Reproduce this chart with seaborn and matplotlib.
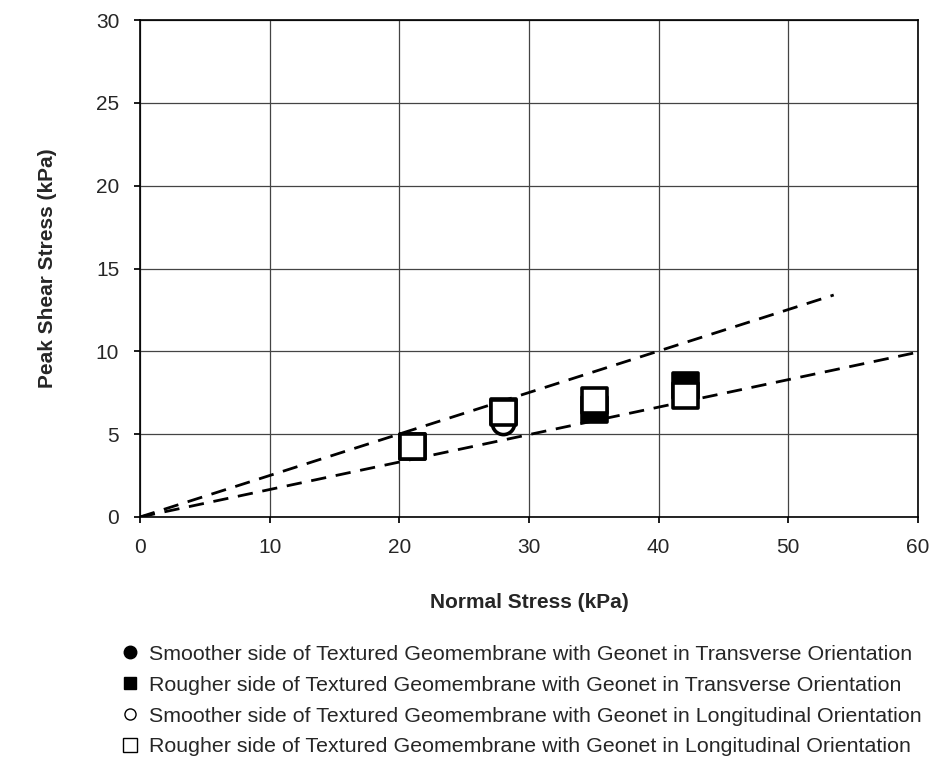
import matplotlib
matplotlib.use("Agg")
import matplotlib.pyplot as plt
from matplotlib.lines import Line2D
import seaborn as sns
import numpy as np

sns.set_theme(style="white")
plt.rcParams['font.family'] = ['Liberation Sans', 'DejaVu Sans']

# Normal stress levels (kPa)
normal_stress = [21, 28, 35, 42]

# Peak shear stress (kPa) for each interface
smooth_transverse = [4.3, 6.3, 6.5, 7.9]
rough_transverse = [4.3, 6.4, 6.5, 7.95]
smooth_longitudinal = [4.3, 5.7, 7.0, 7.35]
rough_longitudinal = [4.3, 6.35, 7.05, 7.35]

labels = [
    "Smoother side of Textured Geomembrane with Geonet in Transverse Orientation",
    "Rougher side of Textured Geomembrane with Geonet in Transverse Orientation",
    "Smoother side of Textured Geomembrane with Geonet in Longitudinal Orientation",
    "Rougher side of Textured Geomembrane with Geonet in Longitudinal Orientation",
]

# Failure envelopes through the origin
upper_env_x = [0, 53.5]
upper_env_y = [0, 13.4]
lower_env_x = [0, 60]
lower_env_y = [0, 9.95]

FS = 15

fig = plt.figure(figsize=(9.3, 7.64), dpi=100)
ax = fig.add_axes([140 / 930, 1 - 517 / 764, (918 - 140) / 930, (517 - 20) / 764])

sns.lineplot(x=upper_env_x, y=upper_env_y, ax=ax, color="black", lw=2.0,
             linestyle=(0, (5.5, 3.5)))
sns.lineplot(x=lower_env_x, y=lower_env_y, ax=ax, color="black", lw=2.0,
             linestyle=(0, (5.5, 3.5)))

series = [
    (smooth_transverse, "o", "black", 16),
    (rough_transverse, "s", "black", 18),
    (smooth_longitudinal, "o", "white", 16),
    (rough_longitudinal, "s", "white", 18),
]
for vals, m, fc, ms in series:
    sns.scatterplot(x=normal_stress, y=vals, ax=ax, marker=m, s=ms ** 2,
                    facecolor=fc, edgecolor="black", linewidth=2.6, zorder=3)

ax.set_xlim(0, 60)
ax.set_ylim(0, 30)
ax.set_xticks(np.arange(0, 61, 10))
ax.set_yticks(np.arange(0, 31, 5))
ax.grid(True, color="#444444", lw=0.9)
for s in ax.spines.values():
    s.set_visible(True)
    s.set_color("black")
    s.set_linewidth(1.2)
ax.tick_params(axis="both", labelsize=FS, length=4, color="black",
               bottom=True, left=True, pad=11)
ax.set_xlabel("Normal Stress (kPa)", fontsize=FS, fontweight="bold", labelpad=26)
ax.set_ylabel("Peak Shear Stress (kPa)", fontsize=FS, fontweight="bold", labelpad=28)

handles = [
    Line2D([], [], marker="o", ls="none", mfc="black", mec="black", ms=9),
    Line2D([], [], marker="s", ls="none", mfc="black", mec="black", ms=9),
    Line2D([], [], marker="o", ls="none", mfc="white", mec="black", ms=8, mew=1),
    Line2D([], [], marker="s", ls="none", mfc="white", mec="black", ms=10, mew=1),
]
fig.legend(handles, labels, loc="upper left", bbox_to_anchor=(113 / 930, 1 - 636 / 764),
           frameon=False, fontsize=15.4, handlelength=0.8, handletextpad=0.5,
           labelspacing=0.56, borderaxespad=0)

fig.savefig("out.png", dpi=100)
